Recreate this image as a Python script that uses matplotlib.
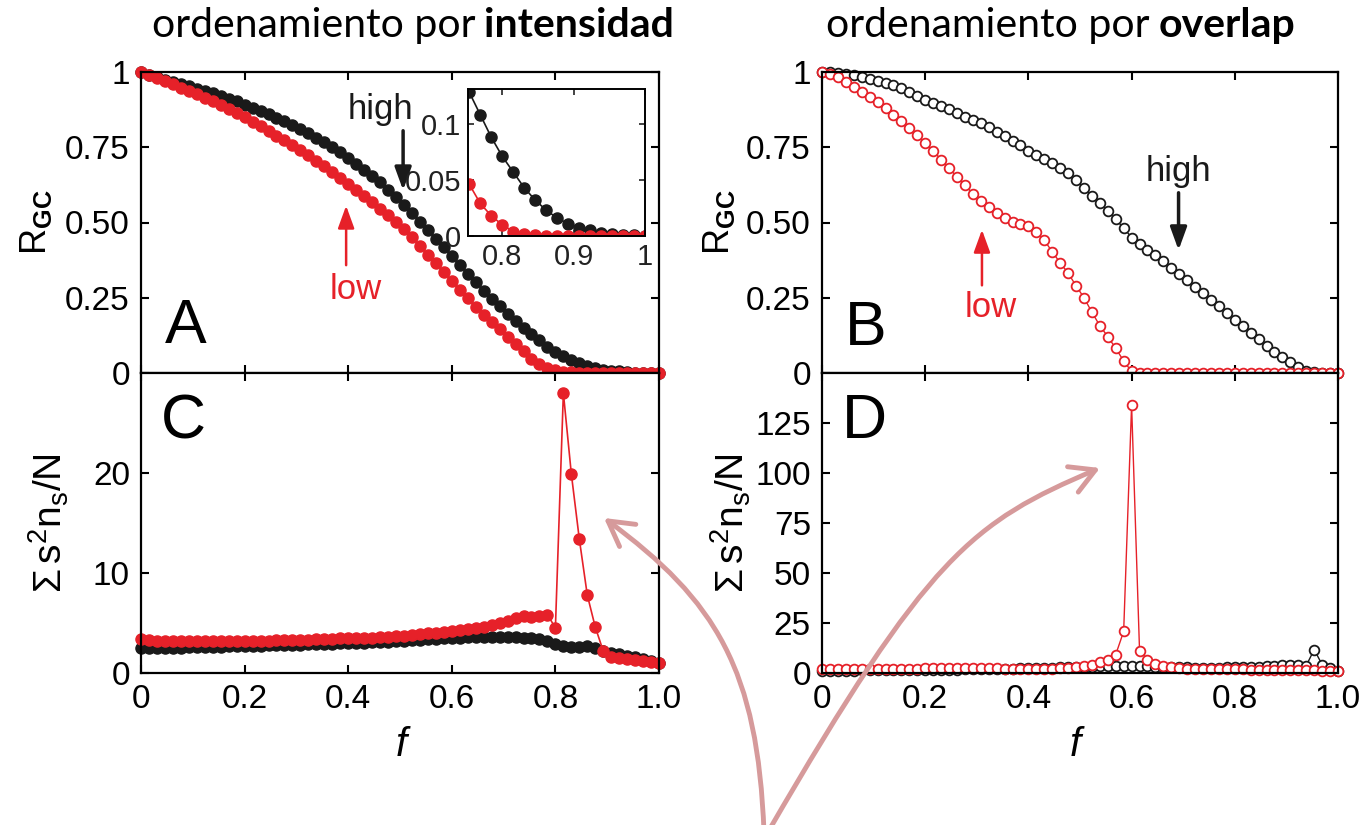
import numpy as np
import matplotlib
matplotlib.use('Agg')
import matplotlib.pyplot as plt
from matplotlib.patches import FancyArrowPatch
from matplotlib.path import Path

# fraction of removed nodes, f = k/65
f = np.arange(66) / 65

# R_GC, ordering by intensity (A)
rg_int_high = [1.000, 0.990, 0.982, 0.975, 0.968, 0.961, 0.953, 0.945, 0.937, 0.929,
               0.920, 0.911, 0.902, 0.892, 0.882, 0.871, 0.860, 0.848, 0.836, 0.823,
               0.810, 0.796, 0.781, 0.766, 0.750, 0.733, 0.715, 0.696, 0.676, 0.655,
               0.633, 0.609, 0.584, 0.558, 0.531, 0.503, 0.475, 0.446, 0.417, 0.388,
               0.359, 0.330, 0.302, 0.274, 0.247, 0.221, 0.196, 0.172, 0.149, 0.128,
               0.108, 0.088, 0.071, 0.057, 0.043, 0.032, 0.023, 0.016, 0.011, 0.0075,
               0.005, 0.003, 0.0015, 0.001, 0.0005, 0.0003]
rg_int_low = [1.000, 0.990, 0.980, 0.970, 0.959, 0.948, 0.937, 0.926, 0.914, 0.902,
              0.889, 0.876, 0.863, 0.849, 0.835, 0.820, 0.805, 0.789, 0.773, 0.757,
              0.740, 0.723, 0.705, 0.687, 0.668, 0.648, 0.628, 0.608, 0.588, 0.567,
              0.546, 0.524, 0.502, 0.479, 0.451, 0.422, 0.393, 0.364, 0.335, 0.306,
              0.277, 0.248, 0.220, 0.194, 0.170, 0.146, 0.121, 0.097, 0.072, 0.046,
              0.029, 0.018, 0.010, 0.004, 0.002, 0.001, 0.0, 0.0, 0.0, 0.0,
              0.0, 0.0, 0.0, 0.0, 0.0, 0.0]

# R_GC, ordering by overlap (B)
rg_ovl_high = [1.000, 1.000, 0.997, 0.993, 0.990, 0.985, 0.978, 0.970, 0.963, 0.956,
               0.946, 0.933, 0.920, 0.908, 0.898, 0.887, 0.876, 0.864, 0.852, 0.841,
               0.829, 0.816, 0.801, 0.786, 0.772, 0.757, 0.738, 0.724, 0.710, 0.697,
               0.682, 0.664, 0.640, 0.615, 0.588, 0.565, 0.538, 0.510, 0.482, 0.450,
               0.428, 0.410, 0.393, 0.371, 0.349, 0.328, 0.309, 0.287, 0.265, 0.243,
               0.221, 0.199, 0.177, 0.155, 0.133, 0.112, 0.091, 0.071, 0.052, 0.035,
               0.020, 0.008, 0.002, 0.0, 0.0, 0.0]
rg_ovl_low = [1.000, 0.993, 0.982, 0.967, 0.951, 0.935, 0.918, 0.900, 0.880, 0.858,
              0.836, 0.813, 0.790, 0.765, 0.738, 0.709, 0.680, 0.652, 0.624, 0.596,
              0.570, 0.551, 0.530, 0.514, 0.503, 0.496, 0.487, 0.468, 0.441, 0.403,
              0.366, 0.332, 0.290, 0.250, 0.202, 0.157, 0.121, 0.082, 0.040, 0.005,
              0.0, 0.0, 0.0, 0.0, 0.0, 0.0, 0.0, 0.0, 0.0, 0.0,
              0.0, 0.0, 0.0, 0.0, 0.0, 0.0, 0.0, 0.0, 0.0, 0.0,
              0.0, 0.0, 0.0, 0.0, 0.0, 0.0]

# sum s^2 n_s / N, ordering by intensity (C)
sus_int_high = [2.5, 2.5, 2.5, 2.5, 2.55, 2.55, 2.6, 2.6, 2.6, 2.65,
                2.65, 2.7, 2.7, 2.7, 2.75, 2.75, 2.8, 2.8, 2.8, 2.85,
                2.85, 2.9, 2.9, 2.95, 2.95, 3.0, 3.0, 3.05, 3.05, 3.1,
                3.1, 3.15, 3.2, 3.25, 3.3, 3.35, 3.4, 3.45, 3.5, 3.5,
                3.55, 3.6, 3.6, 3.65, 3.65, 3.65, 3.6, 3.6, 3.55, 3.5,
                3.4, 3.2, 2.9, 2.7, 2.6, 2.6, 2.7, 2.5, 2.2, 2.0,
                1.9, 1.7, 1.6, 1.4, 1.2, 1.0]
sus_int_low = [3.4, 3.3, 3.25, 3.2, 3.2, 3.2, 3.2, 3.2, 3.2, 3.2,
               3.2, 3.2, 3.2, 3.2, 3.2, 3.25, 3.25, 3.3, 3.3, 3.3,
               3.35, 3.35, 3.4, 3.4, 3.45, 3.5, 3.5, 3.5, 3.55, 3.55,
               3.6, 3.65, 3.7, 3.75, 3.8, 3.9, 4.0, 4.05, 4.15, 4.25,
               4.35, 4.45, 4.55, 4.65, 4.8, 5.0, 5.25, 5.5, 5.7, 5.6,
               5.7, 5.85, 4.5, 28.0, 19.9, 13.4, 7.8, 4.6, 2.2, 1.6,
               1.5, 1.4, 1.3, 1.2, 1.1, 1.0]

# sum s^2 n_s / N, ordering by overlap (D)
sus_ovl_high = [1.0, 1.2, 1.2, 1.2, 1.2, 1.3, 1.3, 1.3, 1.3, 1.4,
                1.4, 1.5, 1.5, 1.5, 1.6, 1.6, 1.7, 1.7, 1.8, 1.8,
                1.9, 2.0, 2.0, 2.1, 2.2, 2.3, 2.4, 2.5, 2.6, 2.7,
                2.8, 2.9, 3.0, 3.1, 3.2, 3.3, 3.4, 3.5, 3.6, 3.7,
                3.5, 3.3, 3.1, 3.0, 2.9, 2.8, 2.8, 2.7, 2.7, 2.7,
                2.7, 2.8, 2.8, 2.9, 3.0, 3.1, 3.3, 3.6, 4.2, 4.0,
                3.8, 3.7, 11.7, 4.2, 2.5, 1.2]
sus_ovl_low = [2.0, 2.0, 2.0, 2.0, 2.0, 2.0, 2.0, 2.0, 2.0, 2.0,
               2.0, 2.0, 2.0, 2.5, 2.5, 2.5, 2.5, 2.5, 2.5, 2.5,
               2.5, 2.5, 2.5, 2.0, 2.0, 2.0, 2.0, 2.0, 2.1, 2.2,
               2.3, 2.5, 2.8, 3.3, 4.2, 5.3, 6.7, 9.2, 20.8, 134.0,
               11.2, 6.7, 4.7, 3.3, 2.8, 2.4, 2.2, 2.1, 2.0, 2.0,
               1.9, 1.9, 1.8, 1.8, 1.7, 1.6, 1.6, 1.5, 1.5, 1.4,
               1.4, 1.3, 1.3, 1.2, 1.2, 1.0]

RED = '#e62129'
BLACK = '#1a1a1a'
PINK = '#d69a9b'

plt.rcParams['font.family'] = ['Liberation Sans', 'DejaVu Sans']
plt.rcParams['mathtext.fontset'] = 'custom'
plt.rcParams['mathtext.rm'] = 'Liberation Sans'
plt.rcParams['mathtext.it'] = 'Liberation Sans:italic'
plt.rcParams['mathtext.bf'] = 'Liberation Sans:bold'

W, H = 1363, 825
fig = plt.figure(figsize=(W / 100, H / 100), dpi=100)


def box(x0, y0, x1, y1):
    # pixel box (origin top-left) -> figure fraction rect
    return [x0 / W, 1 - y1 / H, (x1 - x0) / W, (y1 - y0) / H]


def fpt(x, y):
    return (x / W, 1 - y / H)


def style(ax, ylim, yticks, ylabels, show_x):
    ax.set_xlim(0, 1)
    ax.set_ylim(*ylim)
    ax.set_xticks([0, 0.2, 0.4, 0.6, 0.8, 1.0])
    if show_x:
        ax.set_xticklabels(['0', '0.2', '0.4', '0.6', '0.8', '1.0'])
    else:
        ax.set_xticklabels([])
    ax.set_yticks(yticks)
    ax.set_yticklabels(ylabels)
    ax.tick_params(direction='in', length=6, width=1.5, top=True, right=True,
                   labelsize=24, pad=8)
    for s in ax.spines.values():
        s.set_linewidth(1.6)


def filled(ax, y, c, clip=False):
    ax.plot(f, y, '-o', color=c, ms=8, lw=1.2, clip_on=clip)


def hollow(ax, y, c):
    ax.plot(f, y, '-o', color=c, mfc='white', ms=7, mew=1.3, lw=1.0, clip_on=False)


ylab_sus = r'$\Sigma\,\mathrm{s}^{2}\mathrm{n}_{\mathrm{s}}\mathrm{/N}$'
ylab_rgc = r'$\mathrm{R}_{\mathbf{GC}}$'
head = '-|>,head_length=0.55,head_width=0.2'

# A
axA = fig.add_axes(box(141, 72, 659, 373))
filled(axA, rg_int_high, BLACK)
filled(axA, rg_int_low, RED)
style(axA, (0, 1), [0, 0.25, 0.5, 0.75, 1], ['0', '0.25', '0.50', '0.75', '1'], False)
axA.set_ylabel(ylab_rgc, fontsize=26)
axA.yaxis.set_label_coords(-0.168, 0.5)
axA.text(0.046, 0.1, 'A', transform=axA.transAxes, fontsize=45, va='baseline')
axA.annotate('', xy=(0.506, 0.598), xytext=(0.506, 0.814),
             arrowprops=dict(arrowstyle=head, color=BLACK, lw=2.5, mutation_scale=25))
axA.text(0.463, 0.874, 'high', fontsize=25, ha='center', va='center', color=BLACK)
axA.annotate('', xy=(0.396, 0.565), xytext=(0.396, 0.349),
             arrowprops=dict(arrowstyle=head, color=RED, lw=1.8, mutation_scale=25))
axA.text(0.415, 0.276, 'low', fontsize=25, ha='center', va='center', color=RED)

# inset in A
axI = fig.add_axes(box(468, 89, 645, 236))
filled(axI, rg_int_high, BLACK, clip=True)
filled(axI, rg_int_low, RED, clip=True)
axI.set_xlim(0.752, 1.0)
axI.set_ylim(0, 0.131)
axI.set_xticks([0.8, 0.9, 1.0])
axI.set_xticklabels(['0.8', '0.9', '1'])
axI.set_yticks([0, 0.05, 0.1])
axI.set_yticklabels(['0', '0.05', '0.1'])
axI.tick_params(direction='in', length=4, width=1.2, top=True, right=True,
                labelsize=21, pad=5, colors='#222222')
for s in axI.spines.values():
    s.set_linewidth(1.4)

# B
axB = fig.add_axes(box(822, 72, 1338, 373))
hollow(axB, rg_ovl_high, BLACK)
hollow(axB, rg_ovl_low, RED)
style(axB, (0, 1), [0, 0.25, 0.5, 0.75, 1], ['0', '0.25', '0.50', '0.75', '1'], False)
axB.set_ylabel(ylab_rgc, fontsize=26)
axB.yaxis.set_label_coords(-0.165, 0.5)
axB.text(0.044, 0.093, 'B', transform=axB.transAxes, fontsize=45, va='baseline')
axB.annotate('', xy=(0.691, 0.399), xytext=(0.691, 0.608),
             arrowprops=dict(arrowstyle=head, color=BLACK, lw=2.5, mutation_scale=25))
axB.text(0.691, 0.668, 'high', fontsize=25, ha='center', va='center', color=BLACK)
axB.annotate('', xy=(0.31, 0.485), xytext=(0.31, 0.282),
             arrowprops=dict(arrowstyle=head, color=RED, lw=1.8, mutation_scale=25))
axB.text(0.328, 0.219, 'low', fontsize=25, ha='center', va='center', color=RED)

# C
axC = fig.add_axes(box(141, 373, 659, 673))
filled(axC, sus_int_high, BLACK)
filled(axC, sus_int_low, RED)
style(axC, (0, 30), [0, 10, 20], ['0', '10', '20'], True)
axC.set_ylabel(ylab_sus, fontsize=28)
axC.yaxis.set_label_coords(-0.135, 0.5)
axC.text(0.039, 0.783, 'C', transform=axC.transAxes, fontsize=45, va='baseline')

# D
axD = fig.add_axes(box(822, 373, 1338, 673))
hollow(axD, sus_ovl_high, BLACK)
hollow(axD, sus_ovl_low, RED)
style(axD, (0, 150), [0, 25, 50, 75, 100, 125], ['0', '25', '50', '75', '100', '125'], True)
axD.set_ylabel(ylab_sus, fontsize=28)
axD.yaxis.set_label_coords(-0.134, 0.5)
axD.text(0.039, 0.783, 'D', transform=axD.transAxes, fontsize=45, va='baseline')

# x labels
fig.text(401 / W, 1 - 745 / H, 'f', style='italic', fontsize=29, ha='center', va='center')
fig.text(1075 / W, 1 - 745 / H, 'f', style='italic', fontsize=29, ha='center', va='center')

# titles: normal part + bold part
for x0, word in [(152, 'intensidad'), (826, 'overlap')]:
    t = fig.text(x0 / W, 1 - 37 / H, 'ordenamiento por', family='Lato', fontsize=29.5,
                 ha='left', va='baseline')
    fig.canvas.draw()
    bb = t.get_window_extent()
    fig.text((bb.x1 + 9) / W, 1 - 37 / H, word, family='Lato', fontweight='bold',
             fontsize=29.5, ha='left', va='baseline')

# curved pink arrows (cubic paths, figure pixels)
cub = [Path.MOVETO, Path.CURVE4, Path.CURVE4, Path.CURVE4]
p1 = Path([fpt(764, 832), fpt(757.6, 670), fpt(716.8, 601), fpt(604, 518)], cub)
p2 = Path([fpt(768, 832), fpt(928, 556), fpt(972, 522), fpt(1100, 468)], cub)
for p in (p1, p2):
    arr = FancyArrowPatch(path=p, arrowstyle='->,head_length=0.8,head_width=0.45',
                          mutation_scale=22, lw=3.5, color=PINK,
                          transform=fig.transFigure, capstyle='round')
    fig.add_artist(arr)

fig.savefig('out.png', dpi=100)
